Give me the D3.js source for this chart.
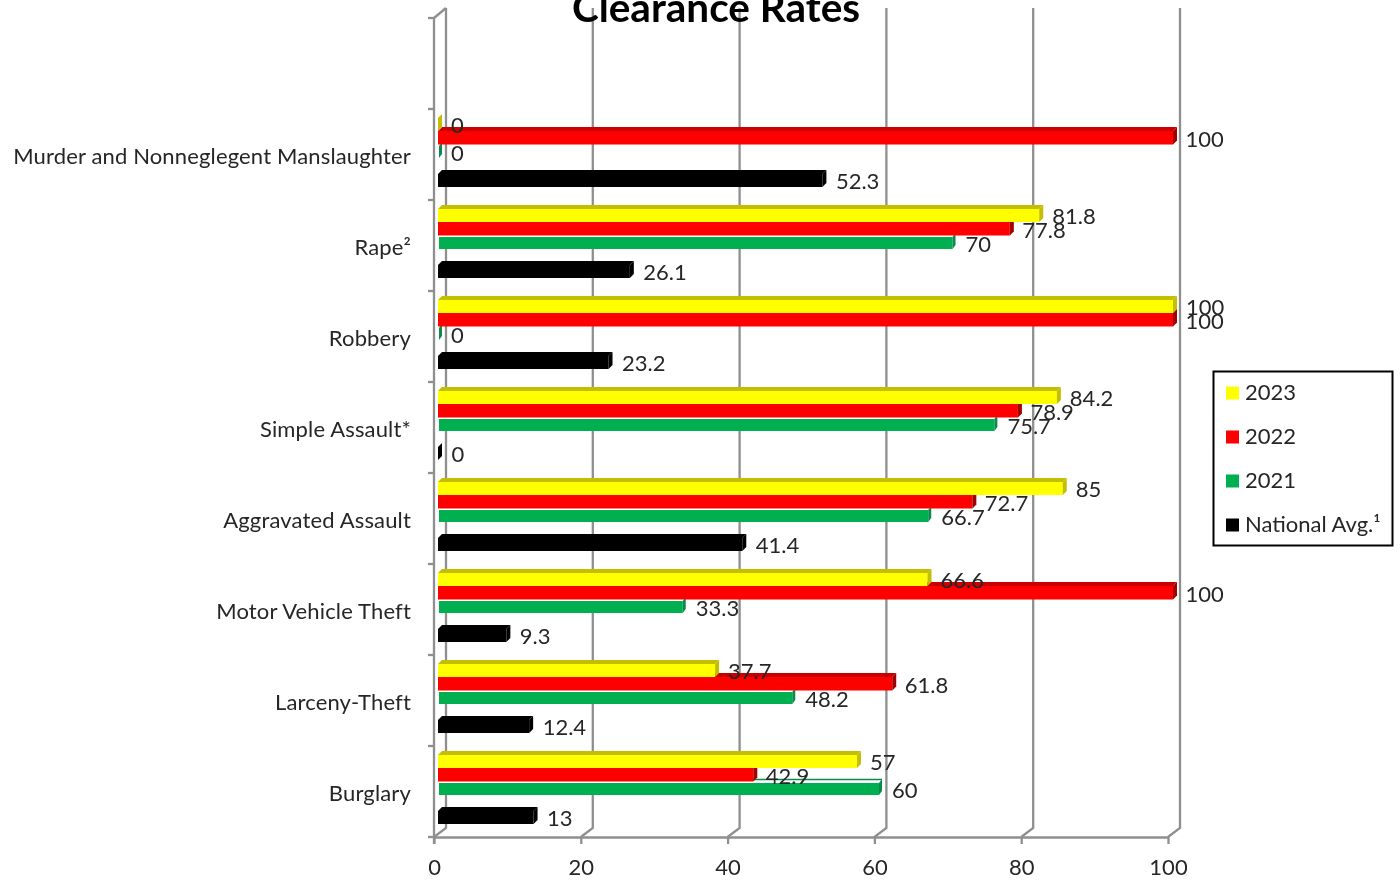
<!DOCTYPE html>
<html>
<head>
<meta charset="utf-8">
<script src="https://cdn.jsdelivr.net/npm/d3@7"></script>
<style>
html,body{margin:0;padding:0;background:#fff;overflow:hidden}
svg{display:block;filter:blur(0.35px)}
text{font-family:Lato,"Open Sans",sans-serif}
</style>
</head>
<body>
<div id="chart"></div>
<script>
const categories = ["Murder and Nonneglegent Manslaughter","Rape²","Robbery","Simple Assault*","Aggravated Assault","Motor Vehicle Theft","Larceny-Theft","Burglary"];
const values2023 = [0,81.8,100,84.2,85,66.6,37.7,57];
const values2022 = [100,77.8,100,78.9,72.7,100,61.8,42.9];
const values2021 = [0,70,0,75.7,66.7,33.3,48.2,60];
const valuesNational = [52.3,26.1,23.2,0,41.4,9.3,12.4,13];
const xTicks = [0,20,40,60,80,100];
const title = "Clearance Rates";

const W=1400,H=881;
const svg=d3.select("#chart").append("svg").attr("width",W).attr("height",H);
const textColor="#262626", gridColor="#8f8f8f";
const fs=22;

const bandDomain=["__blank__",...categories];
const y=d3.scaleBand().domain(bandDomain).range([18,837]);
const x=d3.scaleLinear().domain([0,100]).range([434,1168]);
const barX=d3.scaleLinear().domain([0,100]).range([438,1173]);
const wallDx=12, wallDy=-9;

// back wall
const wall=svg.append("g").attr("fill","none").attr("stroke",gridColor).attr("stroke-width",2.3);
xTicks.forEach(t=>{
  wall.append("path").attr("d",d3.line()([[x(t),837],[x(t)+wallDx,837+wallDy],[x(t)+wallDx,8]]));
});
wall.append("path").attr("d",d3.line()([[x(0),18],[x(0)+wallDx,8]]));

// axes
const xAxis=svg.append("g").attr("transform","translate(0,837)")
  .call(d3.axisBottom(x).tickValues(xTicks).tickSize(7).tickPadding(15).tickSizeOuter(0).tickFormat(d3.format("d")));
xAxis.select(".domain").attr("stroke",gridColor).attr("stroke-width",2.3);
xAxis.selectAll("line").attr("stroke",gridColor).attr("stroke-width",2.3);
xAxis.selectAll("text").attr("fill",textColor).style("font-size",fs+"px").style("font-family","Lato");

const boundary=[...bandDomain.map(d=>y(d)),837];
const leftAxis=svg.append("g").attr("fill","none").attr("stroke",gridColor).attr("stroke-width",2.3);
leftAxis.append("path").attr("d",d3.line()([[x(0),18],[x(0),844]]));
boundary.forEach(b=>leftAxis.append("line").attr("x1",x(0)-6).attr("x2",x(0)).attr("y1",b).attr("y2",b));
const catAxis=svg.append("g").attr("transform",`translate(${x(0)},0)`)
  .call(d3.axisLeft(y).tickValues(categories).tickSize(0).tickPadding(23));
catAxis.select(".domain").remove();
catAxis.selectAll("text").attr("fill",textColor).attr("dy","0.44em").style("font-size",fs+"px").style("font-family","Lato").style("letter-spacing","0.15px");

// bars: drawn back to front
const seriesList=[
  {name:"National Avg.¹",values:valuesNational,front:"#000000",top:"#000000",side:"#000000",y0:61,y1:78,d:4,sx:4,x0:0,lab:0.5,lx:0.5},
  {name:"2021",values:values2021,front:"#00B050",top:"#ffffff",topLine:"#0a8a4c",side:"#0a8a4c",y0:33,y1:49,d:4,sx:3,x0:1,lab:1,lx:0},
  {name:"2022",values:values2022,front:"#FF0000",top:"#C80000",side:"#A30000",y0:18,y1:35.5,d:4,sx:4,x0:0,lab:1.5,lx:-0.5},
  {name:"2023",values:values2023,front:"#FFFF00",top:"#C4BE00",side:"#C4BE00",y0:5,y1:22,d:4,sx:4,x0:0,lab:0.5,lx:0}
];
const barLayer=svg.append("g"), labelLayer=svg.append("g");
seriesList.forEach(s=>{
  const g=barLayer.append("g");
  categories.forEach((c,i)=>{
    const v=s.values[i], band=y(c);
    const xa=barX(0)+s.x0, xb=Math.max(barX(v),xa);
    const t=band+s.y0, ft=t+s.d, b=band+s.y1;
    if(xb>xa){
      g.append("rect").attr("x",xa).attr("y",ft).attr("width",xb-xa).attr("height",b-ft).attr("fill",s.front);
      g.append("path").attr("d",d3.line()([[xa,ft],[xa+s.sx,t],[xb+s.sx,t],[xb,ft]])+"Z").attr("fill",s.top);
      if(s.topLine) g.append("line").attr("x1",xa+s.sx).attr("x2",xb+s.sx).attr("y1",t+.5).attr("y2",t+.5).attr("stroke",s.topLine).attr("stroke-width",1.4);
    }
    g.append("path").attr("d",d3.line()([[xb,ft],[xb+s.sx,t],[xb+s.sx,b-s.d],[xb,b]])+"Z").attr("fill",s.side);
    labelLayer.append("text").attr("x",barX(v)+4+9+s.lx).attr("y",(ft+b)/2+s.lab)
      .attr("dy","0.35em").attr("fill",textColor).style("font-size",fs+"px").text(v);
  });
});

// title
svg.append("text").attr("x",716).attr("y",22).attr("text-anchor","middle")
  .attr("fill","#000").style("font-size","40.5px").style("font-weight","700").text(title);

// legend
const legend=svg.append("g");
legend.append("rect").attr("x",1213.5).attr("y",371.5).attr("width",179).attr("height",174)
  .attr("fill","#fff").attr("stroke","#000").attr("stroke-width",2);
const legendY=d3.scalePoint().domain(seriesList.map(s=>s.name).reverse()).range([393,525]);
seriesList.forEach(s=>{
  const ly=legendY(s.name);
  legend.append("rect").attr("x",1226).attr("y",ly-6.5).attr("width",13).attr("height",13).attr("fill",s.front);
  legend.append("text").attr("x",1245).attr("y",ly-0.5).attr("dy","0.35em").attr("fill",textColor).style("font-size",fs+"px").text(s.name);
});
</script>
</body>
</html>
